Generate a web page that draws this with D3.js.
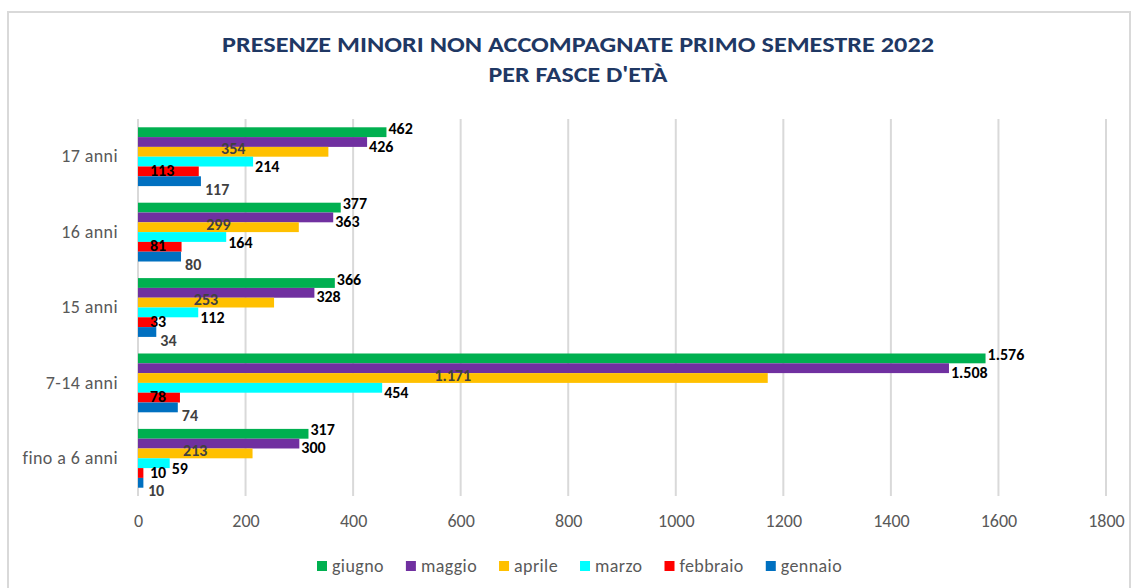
<!DOCTYPE html>
<html>
<head>
<meta charset="utf-8">
<script src="https://cdn.jsdelivr.net/npm/d3@7"></script>
<style>
  body { margin: 0; background: #fff; }
  svg text { font-family: Carlito, Calibri, Lato, sans-serif; }
</style>
</head>
<body>
<div id="chart"></div>
<script>
// chart data
let categories = ["17 anni", "16 anni", "15 anni", "7-14 anni", "fino a 6 anni"];
let months = ["giugno", "maggio", "aprile", "marzo", "febbraio", "gennaio"];
let colors = ["#00B050", "#7030A0", "#FFC000", "#00FFFF", "#FF0000", "#0070C0"];

let giugno   = [462, 377, 366, 1576, 317];
let maggio   = [426, 363, 328, 1508, 300];
let aprile   = [354, 299, 253, 1171, 213];
let marzo    = [214, 164, 112, 454, 59];
let febbraio = [113, 81, 33, 78, 10];
let gennaio  = [117, 80, 34, 74, 10];

let xTicks = [0, 200, 400, 600, 800, 1000, 1200, 1400, 1600, 1800];

let series = [giugno, maggio, aprile, marzo, febbraio, gennaio];

let width = 1137;
let height = 588;
let plotLeft = 138, plotRight = 1106, plotTop = 119, plotBottom = 496;

let it = d3.formatLocale({ decimal: ",", thousands: ".", grouping: [3], currency: ["", "€"] });
let fmt = it.format(",d");

let svg = d3.select("#chart")
            .append("svg")
            .attr("width", width)
            .attr("height", height);

// outer frame
svg.append("rect")
   .attr("x", 8).attr("y", 12)
   .attr("width", 1122).attr("height", 590)
   .attr("fill", "none")
   .attr("stroke", "#d9d9d9")
   .attr("stroke-width", 2);

// title
let title = svg.append("g").attr("fill", "#1F3864").attr("font-weight", "bold")
               .attr("text-anchor", "middle").attr("font-size", 22);
title.append("text").attr("x", 578).attr("y", 52)
     .attr("textLength", 712).attr("lengthAdjust", "spacingAndGlyphs")
     .text("PRESENZE MINORI NON ACCOMPAGNATE PRIMO SEMESTRE 2022");
title.append("text").attr("x", 578).attr("y", 82)
     .attr("textLength", 179).attr("lengthAdjust", "spacingAndGlyphs")
     .text("PER FASCE D'ETÀ");

// scales
let xScale = d3.scaleLinear().domain([0, 1800]).range([plotLeft, plotRight]);

let yScale = d3.scaleBand()
               .domain(categories)
               .range([plotTop, plotBottom])
               .paddingInner(0.22)
               .paddingOuter(0.11);

let ySub = d3.scaleBand()
             .domain(months)
             .range([0, yScale.bandwidth()]);

// gridlines
svg.append("g")
   .selectAll("line")
   .data(xTicks)
   .enter()
   .append("line")
   .attr("x1", d => xScale(d)).attr("x2", d => xScale(d))
   .attr("y1", plotTop).attr("y2", plotBottom)
   .attr("stroke", "#d9d9d9")
   .attr("stroke-width", 2);

// x axis labels
let xAxis = d3.axisBottom(xScale).tickValues(xTicks).tickFormat(d3.format("d"))
              .tickSize(0).tickPadding(0);
let gx = svg.append("g")
            .attr("transform", `translate(0, ${plotBottom + 18})`)
            .call(xAxis);
gx.select(".domain").remove();
gx.selectAll("text")
  .attr("font-size", 18)
  .attr("fill", "#595959")
  .attr("dy", "0.71em")
  .style("font-family", "Carlito, Calibri, Lato, sans-serif");

// y axis labels
let yAxis = d3.axisLeft(yScale).tickSize(0).tickPadding(20);
let gy = svg.append("g")
            .attr("transform", `translate(${plotLeft}, 0)`)
            .call(yAxis);
gy.select(".domain").remove();
gy.selectAll("text")
  .attr("font-size", 18)
  .attr("letter-spacing", "0.4px")
  .attr("fill", "#595959")
  .style("font-family", "Carlito, Calibri, Lato, sans-serif");

// bars
let rows = [];
series.forEach((vals, si) => {
  vals.forEach((v, ci) => {
    rows.push({ month: months[si], si: si, cat: categories[ci], value: v });
  });
});

svg.append("g")
   .selectAll("rect")
   .data(rows)
   .enter()
   .append("rect")
   .attr("x", xScale(0))
   .attr("y", d => yScale(d.cat) + ySub(d.month))
   .attr("width", d => xScale(d.value) - xScale(0))
   .attr("height", ySub.bandwidth())
   .attr("fill", d => colors[d.si]);

// data labels (placed roughly like the Excel original)
function labelX(d) {
  let end = xScale(d.value);
  if (d.month === "aprile") return (xScale(0) + end) / 2;
  if (d.month === "febbraio") return xScale(0) + 12;
  if (d.month === "gennaio") return Math.max(end + 4, xScale(0) + 10);
  return end + 2;
}
function labelDy(d) {
  if (d.month === "giugno") return -4;
  if (d.month === "maggio") return 4;
  if (d.month === "aprile") return -3;
  if (d.month === "marzo") return 5;
  if (d.month === "gennaio") return 8;
  return -1;
}

svg.append("g")
   .selectAll("text")
   .data(rows)
   .enter()
   .append("text")
   .attr("x", labelX)
   .attr("y", d => yScale(d.cat) + ySub(d.month) + ySub.bandwidth() / 2 + labelDy(d))
   .attr("dy", "0.35em")
   .attr("text-anchor", d => d.month === "aprile" ? "middle" : "start")
   .attr("font-size", 16)
   .attr("font-weight", "bold")
   .attr("fill", d => (d.month === "aprile" || d.month === "gennaio") ? "#404040" : "#000")
   .text(d => fmt(d.value));

// legend
let legend = svg.append("g").attr("transform", "translate(317, 566)");
let lx = 0;
months.forEach((m, i) => {
  let item = legend.append("g").attr("transform", `translate(${lx}, 0)`);
  item.append("rect")
      .attr("x", 0).attr("y", -5)
      .attr("width", 10).attr("height", 10)
      .attr("fill", colors[i]);
  let t = item.append("text")
      .attr("x", 15).attr("y", 0)
      .attr("dy", "0.35em")
      .attr("font-size", 18)
      .attr("letter-spacing", "0.4px")
      .attr("fill", "#595959")
      .text(m);
  lx += 15 + t.node().getComputedTextLength() + 22;
});
</script>
</body>
</html>
